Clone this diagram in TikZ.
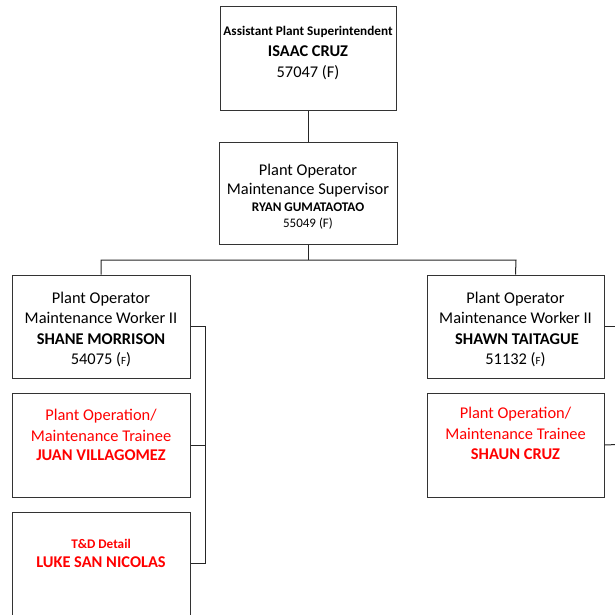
\documentclass[tikz,border=0pt]{standalone}
\usepackage{fontspec}
\setmainfont{Carlito}
\begin{document}
\begin{tikzpicture}[x=1pt,y=-1pt,
  box/.style={draw=black!80,line width=1pt,rectangle,inner sep=0pt,minimum width=#1},
  box/.default=178pt,
  ln/.style={draw=black!85,line width=1pt},
  big/.style={font=\fontsize{16.4}{16.4}\selectfont,anchor=base,inner sep=0pt},
  bigb/.style={font=\fontsize{16.4}{16.4}\selectfont\bfseries,anchor=base,inner sep=0pt},
  small/.style={font=\fontsize{13}{13}\selectfont,anchor=base,inner sep=0pt},
  smallb/.style={font=\fontsize{13.2}{13.2}\selectfont\bfseries,anchor=base,inner sep=0pt},
  redt/.style={text=red}]
\useasboundingbox (0,0) rectangle (614,615);
% boxes
\node[box=176pt,minimum height=104pt] (top) at (308,59) {};
\node[box,minimum height=102pt] (sup) at (308,193) {};
\node[box,minimum height=103pt] (L1) at (101,326.5) {};
\node[box,minimum height=104pt] (L2) at (101,445) {};
\node[box,minimum height=118pt] (L3) at (101,571) {};
\node[box=177pt,minimum height=103pt] (R1) at (515.5,326.5) {};
\node[box=177pt,minimum height=104pt] (R2) at (515.5,445) {};
% texts top
\node[smallb] (t1) at (308,36) {Assistant Plant Superintendent};
\node[bigb] (t2) at (308,56.5) {ISAAC CRUZ};
\node[big] (t3) at (308,77.5) {57047 (F)};
% sup
\node[big] (s1) at (308,175) {Plant Operator};
\node[big] (s2) at (308,194.3) {Maintenance Supervisor};
\node[smallb] (s3) at (308,211) {RYAN GUMATAOTAO};
\node[small] (s4) at (308,227.3) {55049 (F)};
% L1
\node[big] (a1) at (101,303.5) {Plant Operator};
\node[big] (a2) at (101,323) {Maintenance Worker II};
\node[bigb] (a3) at (101,344) {SHANE MORRISON};
\node[big] (a4) at (101,364.5) {54075 ({\fontsize{11}{11}\selectfont F})};
% L2
\node[big,redt] (b1) at (101,420) {Plant Operation/};
\node[big,redt] (b2) at (101,441) {Maintenance Trainee};
\node[bigb,redt] (b3) at (101,460.8) {JUAN VILLAGOMEZ};
% L3
\node[smallb,redt] (c1) at (101,548.3) {T\&D Detail};
\node[bigb,redt] (c2) at (101,567) {LUKE SAN NICOLAS};
% R1
\node[big] (d1) at (515.5,303.5) {Plant Operator};
\node[big] (d2) at (515.5,323) {Maintenance Worker II};
\node[bigb] (d3) at (517,344) {SHAWN TAITAGUE};
\node[big] (d4) at (515.5,364.5) {51132 ({\fontsize{11}{11}\selectfont F})};
% R2
\node[big,redt] (e1) at (515.5,418.5) {Plant Operation/};
\node[big,redt] (e2) at (515.5,439.5) {Maintenance Trainee};
\node[bigb,redt] (e3) at (515.5,459.2) {SHAUN CRUZ};
% connectors
\coordinate (busL) at (101,260);
\coordinate (busR) at (516,260);
\coordinate (busM) at (308,260);
\coordinate (brT) at (205,326.5);
\coordinate (brB) at (205,563);
\coordinate (offA) at (630,326.5);
\coordinate (offB) at (630,444);
\draw[ln] (top.south) -- (sup.north);
\draw[ln] (sup.south) -- (busM);
\draw[ln] (L1.north) -- (busL) -- (busR) -- (R1.north);
\draw[ln] (L1.east) -- (brT) -- (brB) -- (L3.east |- brB);
\draw[ln] (L2.east) -- (L2.east -| brT);
\draw[ln] (R1.east) -- (offA);
\draw[ln] (R2.east) -- (offB);
\end{tikzpicture}
\end{document}
